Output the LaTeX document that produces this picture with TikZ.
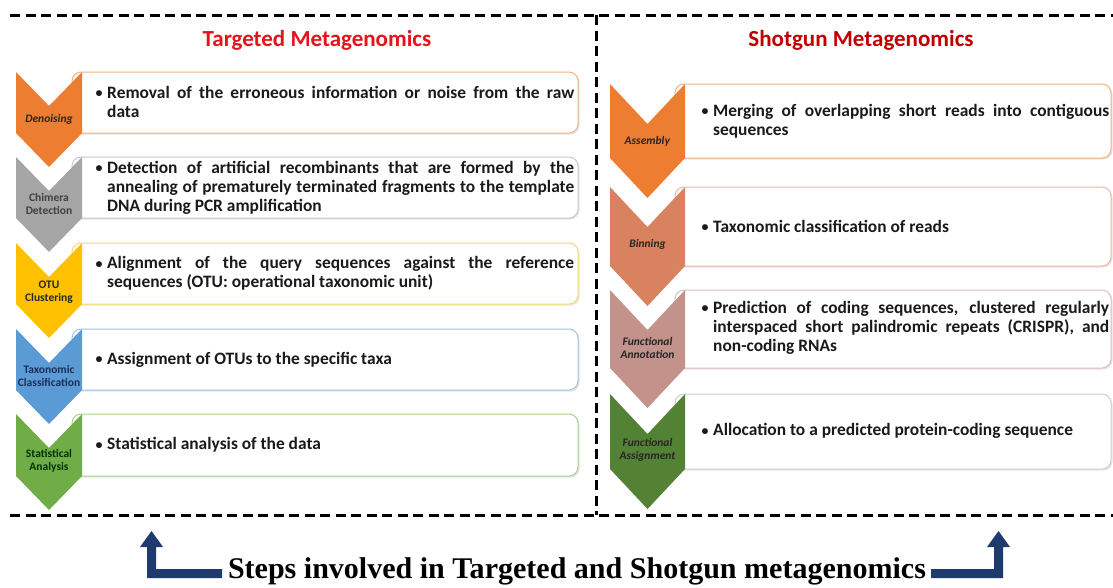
\documentclass[tikz,border=0pt]{standalone}
\usepackage{fontspec}
\usepackage{graphicx}
\setmainfont{Carlito}
\newfontfamily\capserif{Liberation Serif}
\definecolor{cOr}{HTML}{ED7D31}\definecolor{bOr}{HTML}{F4B183}
\definecolor{cGr}{HTML}{A5A5A5}\definecolor{bGr}{HTML}{C9C9C9}
\definecolor{cYe}{HTML}{FFC000}\definecolor{bYe}{HTML}{FFD966}
\definecolor{cBl}{HTML}{5B9BD5}\definecolor{bBl}{HTML}{9DC3E6}
\definecolor{cGn}{HTML}{70AD47}\definecolor{bGn}{HTML}{A9D18E}
\definecolor{cBin}{HTML}{D9825F}\definecolor{bBin}{HTML}{EBB9A3}
\definecolor{cAnn}{HTML}{C3928A}\definecolor{bAnn}{HTML}{DDBEB9}
\definecolor{cAsg}{HTML}{548235}\definecolor{bAsg}{HTML}{CFCFCF}
\definecolor{navy}{HTML}{1F3A6E}
\definecolor{titL}{HTML}{E3141B}
\definecolor{titR}{HTML}{C00000}
\definecolor{bodytxt}{HTML}{1A1A1A}
\newcommand\jl[1]{\makebox[\linewidth][s]{#1}}
\newcommand\bul[2]{\makebox[12pt][l]{\hspace{0.5pt}\raisebox{0.5pt}{\scalebox{0.8}{\textbullet}}}\parbox[t]{#1}{#2}}
% chevron: color, x0, x1, depth, y0, y1
\newcommand\mychev[6]{\fill[#1] (#2,#5) -- ({(#2+#3)/2},{#5+#4}) -- (#3,#5) -- (#3,#6) -- ({(#2+#3)/2},{#6+#4}) -- (#2,#6) -- cycle;}
% box: border, xl, xr, y0, y1
\newcommand\mybox[5]{\fill[black!10,rounded corners=9pt] ({#2+1.5},{#4+1.5}) rectangle ({#3+1.5},{#5+1.5});
  \draw[#1,line width=1pt,fill=white,rounded corners=9pt] (#2,#4) rectangle (#3,#5);}
\tikzset{
  lab/.style={font=\fontsize{11.5}{13}\selectfont\bfseries, align=center, inner sep=0pt},
  body/.style={font=\fontsize{17.4}{19.2}\selectfont\bfseries, text=bodytxt, anchor=west, inner sep=0pt},
  title/.style={font=\fontsize{23}{27}\selectfont\bfseries},
  frame/.style={line width=3pt, dash pattern=on 10pt off 5.5pt}
}
\begin{document}
\begin{tikzpicture}[x=1pt,y=-1pt]
\useasboundingbox (0,0) rectangle (1113,587);
\fill[white] (0,0) rectangle (1113,587);
% frame
\draw[frame] (10,15) -- (1113,15);
\draw[frame] (10,515) -- (1113,515);
\draw[frame] (596,15) -- (596,515);
% titles
\node[title,text=titL] (tl) at (317,40) {Targeted Metagenomics};
\node[title,text=titR] (tr) at (861,40) {Shotgun Metagenomics};
% left boxes
\mybox{bOr}{72}{578}{72}{133}
\mybox{bGr}{72}{578}{157}{218}
\mybox{bYe}{72}{578}{243}{304}
\mybox{bBl}{72}{578}{329}{390}
\mybox{bGn}{72}{578}{414}{476}
% left chevrons
\mychev{cOr}{16}{82}{34}{72}{133}
\mychev{cGr}{16}{82}{34}{157}{218}
\mychev{cYe}{16}{82}{34}{243}{304}
\mychev{cBl}{16}{82}{34}{329}{390}
\mychev{cGn}{16}{82}{34}{414}{476}
% right boxes
\mybox{bOr}{675}{1111}{84}{158}
\mybox{bBin}{675}{1111}{187}{266}
\mybox{bAnn}{675}{1111}{290}{368}
\mybox{bAsg}{675}{1111}{394}{469}
% right chevrons
\mychev{cOr}{610}{685}{40}{84}{158}
\mychev{cBin}{610}{685}{40}{187}{266}
\mychev{cAnn}{610}{685}{40}{290}{368}
\mychev{cAsg}{610}{685}{40}{394}{469}
% left labels
\node[lab,text=black!85] (l1) at (49,119) {\textit{Denoising}};
\node[lab,text=black!75] (l2) at (49,204) {Chimera\\Detection};
\node[lab,text=black!85] (l3) at (49,292) {OTU\\Clustering};
\node[lab,text=navy!80!black] (l4) at (49,376) {Taxonomic\\Classification};
\node[lab,text=black!80!green] (l5) at (49,461) {Statistical\\Analysis};
% right labels
\node[lab,text=black!85] (r1) at (647.5,141) {\textit{Assembly}};
\node[lab,text=black!85] (r2) at (647.5,244) {\textit{Binning}};
\node[lab,text=black!85] (r3) at (647.5,348) {\textit{Functional}\\\textit{Annotation}};
\node[lab,text=black!85] (r4) at (647.5,450) {\textit{Functional}\\\textit{Assignment}};
% left texts
\node[body] (t1) at (95,102) {\bul{467pt}{\jl{Removal of the erroneous information or noise from the raw}\\data}};
\node[body] (t2) at (95,188) {\bul{467pt}{\jl{Detection of artificial recombinants that are formed by the}\\\jl{annealing of prematurely terminated fragments to the template}\\DNA during PCR amplification}};
\node[body] (t3) at (95,273.5) {\bul{467pt}{\jl{Alignment of the query sequences against the reference}\\sequences (OTU: operational taxonomic unit)}};
\node[body] (t4) at (95,359.5) {\bul{467pt}{Assignment of OTUs to the specific taxa}};
\node[body] (t5) at (95,445) {\bul{467pt}{Statistical analysis of the data}};
% right texts
\node[body] (s1) at (701,121) {\bul{396pt}{\jl{Merging of overlapping short reads into contiguous}\\sequences}};
\node[body] (s2) at (701,226) {\bul{396pt}{Taxonomic classification of reads}};
\node[body] (s3) at (701,328) {\bul{396pt}{\jl{Prediction of coding sequences, clustered regularly}\\\jl{interspaced short palindromic repeats (CRISPR), and}\\non-coding RNAs}};
\node[body] (s4) at (701,431) {\bul{396pt}{Allocation to a predicted protein-coding sequence}};
% caption
\node[inner sep=0pt,font=\capserif\bfseries\fontsize{28}{30}\selectfont] (cap) at (577,571) {\resizebox{698pt}{!}{Steps involved in Targeted and Shotgun metagenomics}};
% bent arrows
\fill[navy] (147,578) -- (222,578) -- (222,569) -- (156,569) -- (156,547) -- (163,547) -- (151.5,531) -- (140,547) -- (147,547) -- cycle;
\fill[navy] (1003,578) -- (931,578) -- (931,569) -- (994,569) -- (994,547) -- (987,547) -- (998.5,531) -- (1010,547) -- (1003,547) -- cycle;
\end{tikzpicture}
\end{document}
